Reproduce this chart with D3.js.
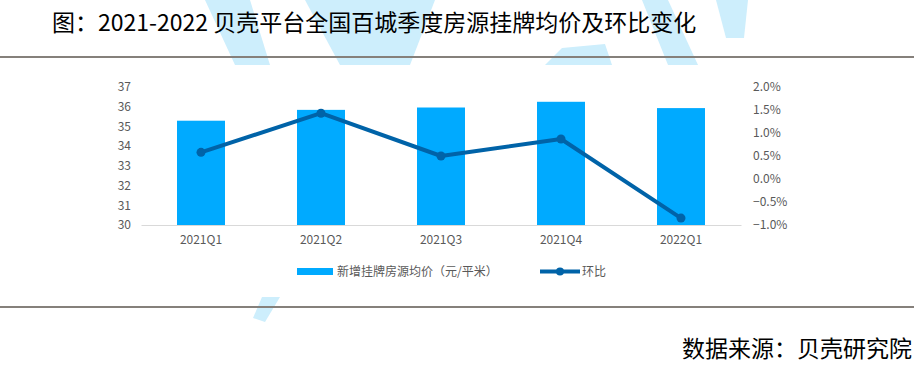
<!DOCTYPE html>
<html>
<head>
<meta charset="utf-8">
<script src="https://cdn.jsdelivr.net/npm/d3@7"></script>
<style>
  body { margin: 0; background: #fff; }
  text { font-family: "Noto Sans CJK SC", "DejaVu Sans", sans-serif; }
</style>
</head>
<body>
<div id="chart"></div>
<script>
//Data
var quarters = ["2021Q1", "2021Q2", "2021Q3", "2021Q4", "2022Q1"];
var avgPrice = [35.29, 35.84, 35.96, 36.25, 35.93]; // left axis
var qoq = [0.58, 1.43, 0.5, 0.87, -0.85]; // %, right axis
var leftTicks = [30, 31, 32, 33, 34, 35, 36, 37];
var rightTicks = [-1.0, -0.5, 0.0, 0.5, 1.0, 1.5, 2.0];
var legendNames = ["新增挂牌房源均价（元/平米）", "环比"];

var width = 921,
  height = 375;

var barColor = "#00aaff",
  lineColor = "#0063a8",
  tickColor = "#595959";

var svg = d3
  .select("#chart")
  .append("svg")
  .attr("width", width)
  .attr("height", height);

//Light blue watermark behind everything
var marks = [
  [[205, 0], [250, 0], [270, 65], [235, 65]],
  [[305, 0], [435, 0], [410, 65], [340, 65]],
  [[545, 65], [562, 48], [605, 44], [612, 65]],
  [[642, 0], [668, 0], [698, 65], [668, 65]],
  [[716, 0], [748, 0], [744, 38], [726, 38]],
  [[262, 297], [280, 297], [265, 322], [253, 318]]
];
svg
  .append("g")
  .selectAll("polygon")
  .data(marks)
  .enter()
  .append("polygon")
  .attr("points", function (d) {
    return d.join(" ");
  })
  .attr("fill", "#cdeefc");

//white plate the chart sits on
svg
  .append("rect")
  .attr("x", 0)
  .attr("y", 65)
  .attr("width", width)
  .attr("height", 232)
  .attr("fill", "#fff");

//Title, rules and source
svg
  .append("text")
  .attr("x", 52)
  .attr("y", 31)
  .style("font-size", "23px")
  .attr("fill", "#000")
  .text("图：2021-2022 贝壳平台全国百城季度房源挂牌均价及环比变化");

svg
  .selectAll("line.rule")
  .data([57, 307])
  .enter()
  .append("line")
  .attr("class", "rule")
  .attr("x1", 0)
  .attr("x2", 914)
  .attr("y1", function (d) {
    return d;
  })
  .attr("y2", function (d) {
    return d;
  })
  .attr("stroke", "#85807b")
  .attr("stroke-width", 2);

svg
  .append("text")
  .attr("x", 912)
  .attr("y", 357)
  .attr("text-anchor", "end")
  .style("font-size", "23px")
  .attr("fill", "#000")
  .text("数据来源：贝壳研究院");

//Scales
var x = d3
  .scaleBand()
  .domain(quarters)
  .range([141, 741])
  .paddingInner(0.6)
  .paddingOuter(0.3);
var yLeft = d3.scaleLinear().domain([30, 37]).range([225, 87]);
var yRight = d3.scaleLinear().domain([-1, 2]).range([225, 87]);

//Axes
var leftAxis = svg
  .append("g")
  .attr("transform", "translate(141,0)")
  .call(
    d3
      .axisLeft(yLeft)
      .tickValues(leftTicks)
      .tickSize(0)
      .tickPadding(10)
      .tickFormat(d3.format("d"))
  );

var rightAxis = svg
  .append("g")
  .attr("transform", "translate(741,0)")
  .call(
    d3
      .axisRight(yRight)
      .tickValues(rightTicks)
      .tickSize(0)
      .tickPadding(12)
      .tickFormat(function (d) {
        return d3.format(".1f")(d) + "%";
      })
  );

var bottomAxis = svg
  .append("g")
  .attr("transform", "translate(0,225)")
  .call(d3.axisBottom(x).tickSize(0).tickPadding(10));

[leftAxis, rightAxis].forEach(function (g) {
  g.select(".domain").remove();
});
bottomAxis.select(".domain").attr("stroke", "#d9d9d9");

svg
  .selectAll(".tick text")
  .attr("fill", tickColor)
  .style("font-size", "12px")
  .style("font-family", '"Noto Sans CJK SC", sans-serif');

//Bars
svg
  .append("g")
  .selectAll("rect")
  .data(avgPrice)
  .enter()
  .append("rect")
  .attr("x", function (d, i) {
    return x(quarters[i]);
  })
  .attr("y", function (d) {
    return yLeft(d);
  })
  .attr("width", x.bandwidth())
  .attr("height", function (d) {
    return yLeft(30) - yLeft(d);
  })
  .attr("fill", barColor);

//Line with markers
var line = d3
  .line()
  .x(function (d, i) {
    return x(quarters[i]) + x.bandwidth() / 2;
  })
  .y(function (d) {
    return yRight(d);
  });

svg
  .append("path")
  .datum(qoq)
  .attr("d", line)
  .attr("fill", "none")
  .attr("stroke", lineColor)
  .attr("stroke-width", 4)
  .attr("stroke-linejoin", "round");

svg
  .append("g")
  .selectAll("circle")
  .data(qoq)
  .enter()
  .append("circle")
  .attr("cx", function (d, i) {
    return x(quarters[i]) + x.bandwidth() / 2;
  })
  .attr("cy", function (d) {
    return yRight(d);
  })
  .attr("r", 4.5)
  .attr("fill", lineColor);

//Legend
var legend = svg.append("g");

legend
  .append("rect")
  .attr("x", 297)
  .attr("y", 268)
  .attr("width", 36)
  .attr("height", 7)
  .attr("fill", barColor);

legend
  .append("text")
  .attr("x", 337)
  .attr("y", 276)
  .style("font-size", "12px")
  .attr("fill", tickColor)
  .text(legendNames[0]);

legend
  .append("line")
  .attr("x1", 540)
  .attr("x2", 580)
  .attr("y1", 271.5)
  .attr("y2", 271.5)
  .attr("stroke", lineColor)
  .attr("stroke-width", 4);

legend
  .append("circle")
  .attr("cx", 560)
  .attr("cy", 271.5)
  .attr("r", 4)
  .attr("fill", lineColor);

legend
  .append("text")
  .attr("x", 582)
  .attr("y", 276)
  .style("font-size", "12px")
  .attr("fill", tickColor)
  .text(legendNames[1]);
</script>
</body>
</html>
